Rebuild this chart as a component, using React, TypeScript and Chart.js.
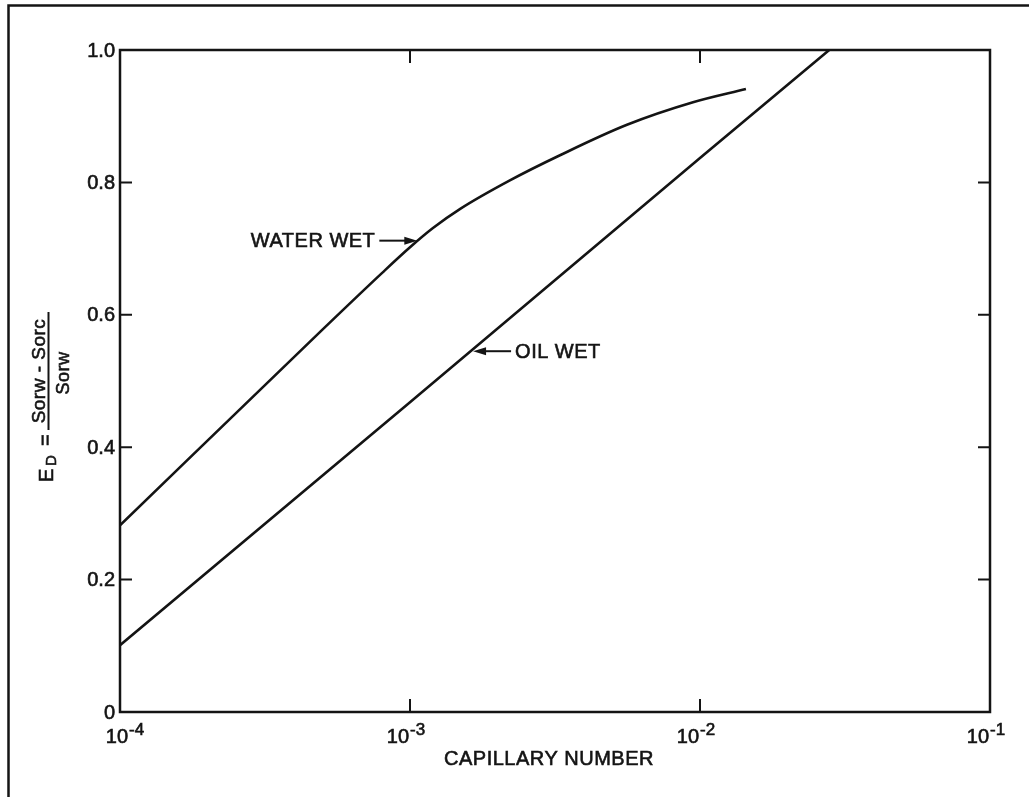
import React, { useEffect, useRef } from 'react';
import { Chart, registerables } from 'chart.js';

Chart.register(...registerables);

// ---- data ----
const waterWetX = [1e-4, 5e-4, 8e-4, 1e-3, 1.2e-3, 1.49e-3, 2.21e-3, 3.29e-3, 5.6e-3, 9.46e-3, 1.44e-2];
const waterWetY = [0.282, 0.578, 0.663, 0.702, 0.731, 0.76, 0.803, 0.841, 0.887, 0.921, 0.941];
const oilWetX = [1e-4, 1e-3, 1e-2, 2.79e-2];
const oilWetY = [0.101, 0.468, 0.837, 1.0];

const xTickExponents = [-4, -3, -2, -1];
const yTickValues = [0, 0.2, 0.4, 0.6, 0.8, 1.0];
const yTickLabels = ['0', '0.2', '0.4', '0.6', '0.8', '1.0'];

const xAxisTitle = 'CAPILLARY NUMBER';
const curveLabels = ['WATER WET', 'OIL WET'];
const labelAnchorX = [1.06e-3, 1.65e-3];
const labelAnchorY = [0.712, 0.545];
const labelSide = ['left', 'right'];

const INK = '#141414';
const FONT = (px: number) => `${px}px "Liberation Sans", Arial, sans-serif`;

const decorPlugin = {
  id: 'decor',
  afterDraw(chart: any) {
    const { ctx, chartArea: a, scales } = chart;
    const xs = scales.x;
    const ys = scales.y;
    ctx.save();
    ctx.strokeStyle = INK;
    ctx.fillStyle = INK;

    const text = (t: string, x: number, y: number) => {
      ctx.save();
      ctx.lineWidth = 0.6;
      ctx.fillText(t, x, y);
      ctx.strokeText(t, x, y);
      ctx.restore();
    };

    // page border (left and top edges visible)
    ctx.lineWidth = 2.5;
    ctx.beginPath();
    ctx.moveTo(8.5, 797);
    ctx.lineTo(8.5, 5.5);
    ctx.lineTo(1029, 5.5);
    ctx.stroke();

    // plot frame
    ctx.lineWidth = 2.5;
    ctx.strokeRect(a.left, a.top, a.right - a.left, a.bottom - a.top);

    // y ticks (inward, both sides) + labels
    ctx.lineWidth = 2;
    ctx.font = FONT(20);
    ctx.textAlign = 'right';
    ctx.textBaseline = 'middle';
    yTickValues.forEach((v, i) => {
      const py = ys.getPixelForValue(v);
      if (v > 0 && v < 1) {
        ctx.beginPath();
        ctx.moveTo(a.left, py);
        ctx.lineTo(a.left + 12, py);
        ctx.moveTo(a.right, py);
        ctx.lineTo(a.right - 12, py);
        ctx.stroke();
      }
      text(yTickLabels[i], a.left - 5, py + 1);
    });

    // x ticks (inward, top and bottom) + labels 10^n
    xTickExponents.forEach((e, i) => {
      const px = xs.getPixelForValue(Math.pow(10, e));
      if (i > 0 && i < xTickExponents.length - 1) {
        ctx.lineWidth = 2;
        ctx.beginPath();
        ctx.moveTo(px, a.bottom);
        ctx.lineTo(px, a.bottom - 13);
        ctx.moveTo(px, a.top);
        ctx.lineTo(px, a.top + 13);
        ctx.stroke();
      }
      const anchor = Math.max(px - 1, a.left + 8);
      ctx.textBaseline = 'alphabetic';
      ctx.font = FONT(20);
      ctx.textAlign = 'right';
      text('10', anchor, a.bottom + 31);
      ctx.font = FONT(17);
      ctx.textAlign = 'left';
      text(String(e), anchor + 1, a.bottom + 23);
    });

    // x axis title
    ctx.font = FONT(20);
    ctx.letterSpacing = '0.5px';
    ctx.textAlign = 'center';
    ctx.textBaseline = 'alphabetic';
    text(xAxisTitle, (a.left + a.right) / 2 - 6, a.bottom + 53);

    // y axis title (rotated):  E_D = (Sorw - Sorc) / Sorw
    const rot = (t: string, bx: number, sy: number, px: number, align: CanvasTextAlign) => {
      ctx.save();
      ctx.translate(bx, sy);
      ctx.rotate(-Math.PI / 2);
      ctx.font = FONT(px);
      ctx.textAlign = align;
      ctx.textBaseline = 'alphabetic';
      text(t, 0, 0);
      ctx.restore();
    };
    rot('E', 53, 482, 20, 'left');
    rot('D', 56, 466, 15, 'left');
    rot('=', 52, 440, 20, 'center');
    rot('Sorw - Sorc', 45, 371, 19, 'center');
    ctx.lineWidth = 2;
    ctx.beginPath();
    ctx.moveTo(48.5, 312);
    ctx.lineTo(48.5, 430);
    ctx.stroke();
    rot('Sorw', 69, 373, 18, 'center');

    // curve labels with arrows
    curveLabels.forEach((label, i) => {
      const tx = xs.getPixelForValue(labelAnchorX[i]);
      const ty = ys.getPixelForValue(labelAnchorY[i]);
      const dir = labelSide[i] === 'left' ? 1 : -1; // arrow points in +x when label is on the left
      const shaftEnd = tx - dir * 38;
      ctx.lineWidth = 2;
      ctx.beginPath();
      ctx.moveTo(shaftEnd, ty);
      ctx.lineTo(tx - dir * 10, ty);
      ctx.stroke();
      ctx.beginPath();
      ctx.moveTo(tx, ty);
      ctx.lineTo(tx - dir * 13, ty - 4);
      ctx.lineTo(tx - dir * 13, ty + 4);
      ctx.closePath();
      ctx.fill();
      ctx.font = FONT(20);
      ctx.textBaseline = 'middle';
      ctx.textAlign = dir === 1 ? 'right' : 'left';
      text(label, shaftEnd - dir * 4, ty + 1);
    });

    ctx.restore();
  },
};

export default function App() {
  const ref = useRef<HTMLCanvasElement>(null);

  useEffect(() => {
    if (!ref.current) return;
    const chart = new Chart(ref.current, {
      type: 'scatter',
      data: {
        datasets: [
          {
            label: 'Water wet',
            data: waterWetX.map((x, i) => ({ x, y: waterWetY[i] })),
            showLine: true,
            borderColor: INK,
            borderWidth: 2.6,
            pointRadius: 0,
            cubicInterpolationMode: 'monotone',
          },
          {
            label: 'Oil wet',
            data: oilWetX.map((x, i) => ({ x, y: oilWetY[i] })),
            showLine: true,
            borderColor: INK,
            borderWidth: 2.6,
            pointRadius: 0,
            tension: 0,
          },
        ],
      },
      options: {
        animation: false,
        responsive: false,
        maintainAspectRatio: false,
        layout: { padding: { left: 120, top: 50, right: 39, bottom: 85 } },
        plugins: { legend: { display: false }, tooltip: { enabled: false } },
        scales: {
          x: { type: 'logarithmic', min: 1e-4, max: 1e-1, display: false },
          y: { type: 'linear', min: 0, max: 1, display: false },
        },
      },
      plugins: [decorPlugin],
    } as any);
    return () => chart.destroy();
  }, []);

  return (
    <div style={{ position: 'absolute', left: 0, top: 0, width: 1029, height: 797, background: '#fff' }}>
      <canvas ref={ref} width={1029} height={797} style={{ display: 'block' }} />
    </div>
  );
}
